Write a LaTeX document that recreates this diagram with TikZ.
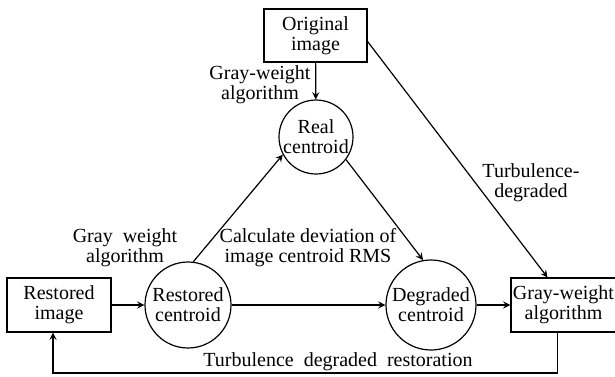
\documentclass[tikz,border=0pt]{standalone}
\usepackage{fontspec}
\setmainfont{Liberation Serif}
\usetikzlibrary{arrows, positioning, shapes}

\begin{document}
\begin{tikzpicture}[
  x=0.5pt, y=-0.5pt,
  font=\fontsize{10}{10}\selectfont,
  box/.style={draw, rectangle, minimum height=27pt,
              align=center, inner sep=1pt, line width=0.6pt},
  cnode/.style={draw, circle, align=center, inner sep=0pt,
                line width=0.6pt},
  lbl/.style={align=center, inner sep=0pt},
  arrow/.style={-stealth, line width=0.6pt},
]
  \useasboundingbox (0,0) rectangle (615,376);
  % boxes
  \node[box, minimum width=51.5pt, minimum height=26.5pt] (orig) at (315.5,35.5) {Original\\image};
  \node[box, minimum width=52pt] (rimg) at (59,305) {Restored\\image};
  \node[box, minimum width=50.5pt] (gw) at (563.5,305) {Gray-weight\\algorithm};
  % centroids
  \node[cnode, minimum size=37pt] (real) at (316,137) {Real\\centroid};
  \node[cnode, minimum size=43pt] (rest) at (188,305) {Restored\\centroid};
  \node[cnode, minimum size=45pt] (degr) at (431,305) {Degraded\\centroid};
  % connectors
  \draw[arrow] (orig) -- (real);
  \draw[arrow] (rimg) -- (rest);
  \draw[arrow] (rest) -- (degr);
  \draw[arrow] (degr) -- (gw);
  \draw[arrow] (rest.83) -- (real.208);
  \draw[arrow] (real.-37) -- (degr.100);
  \draw[arrow] ([yshift=-3pt]orig.east) -- ([xshift=-8pt]gw.north);
  \coordinate (loop) at (53,373);
  \draw[arrow] ([xshift=-3pt]gw.south) |- (loop) -- ([xshift=-3pt]rimg.south);
  % labels
  \node[lbl] (lgw1) at (260,85) {Gray-weight\\algorithm};
  \node[lbl] (lgw2) at (125,248) {Gray~~weight\\algorithm};
  \node[lbl] (lrms) at (308,248) {Calculate deviation of\\image centroid RMS};
  \node[lbl] (lturb) at (531,183) {Turbulence-\\degraded};
  \node[lbl] (lrest) at (338,362) {Turbulence~~degraded~~restoration};
\end{tikzpicture}
\end{document}
